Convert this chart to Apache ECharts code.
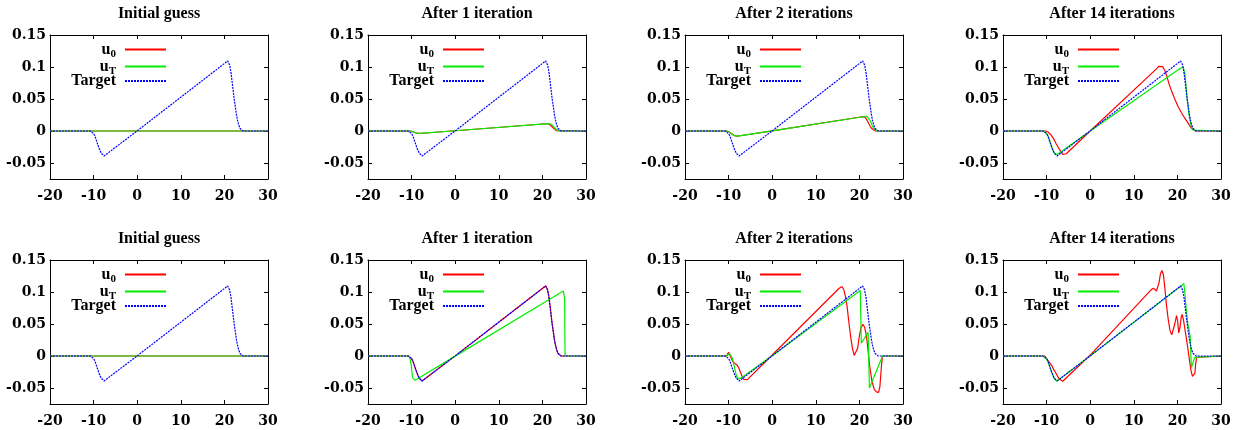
<!DOCTYPE html>
<html>
<head>
<meta charset="utf-8">
<script src="https://cdn.jsdelivr.net/npm/echarts@6/dist/echarts.min.js"></script>
<style>
  html, body { margin: 0; padding: 0; background: #fff; }
  #chart { width: 1237px; height: 430px; }
</style>
</head>
<body>
<div id="chart"></div>
<script>
// panel titles, left to right
const titles = ['Initial guess', 'After 1 iteration', 'After 2 iterations', 'After 14 iterations'];
const seriesNames = ['u0', 'uT', 'Target'];
const xTicks = [-20, -10, 0, 10, 20, 30];
const yTicks = [-0.05, 0, 0.05, 0.1, 0.15];

// target profile (same in every panel)
const target = [[-20,0],[-10.8,0],[-10.4,-0.001],[-10,-0.004],[-9.7,-0.008],[-9.3,-0.016],[-8.9,-0.024],[-8.5,-0.031],
  [-8.2,-0.035],[-7.9,-0.038],[-7.6,-0.039],[-7.3,-0.0385],[0,0.0002],[20.2,0.1065],[20.75,0.1095],[21.0,0.108],
  [21.2,0.103],[21.5,0.092],[21.75,0.078],[22.0,0.064],[22.2,0.052],[22.5,0.038],[22.75,0.026],[23.0,0.017],
  [23.3,0.009],[23.6,0.004],[23.9,0.001],[24.3,0],[30,0]];

// top row
const top0_u0 = [[-20,0],[30,0]];
const top0_uT = [[-20,0],[30,0]];
const top1_u0 = [[-20,0],[-10.6,0],[-10.0,-0.0005],[-9.4,-0.002],[-8.8,-0.0033],[-8.1,-0.0038],[-7.5,-0.0035],[0,0.0004],
  [20.8,0.0113],[21.2,0.0114],[21.6,0.0105],[22.0,0.0085],[22.4,0.0055],[22.8,0.0025],[23.2,0.0007],[23.6,0],[30,0]];
const top1_uT = [[-20,0],[-10.4,0],[-9.8,-0.0008],[-9.2,-0.0025],[-8.6,-0.0035],[-8.0,-0.0038],[-7.4,-0.0034],[0,0.0004],
  [21.3,0.0115],[21.7,0.0116],[22.1,0.0105],[22.5,0.0075],[22.9,0.004],[23.3,0.0015],[23.7,0.0003],[24.1,0],[30,0]];
const top2_u0 = [[-20,0],[-10.5,0],[-10,-0.001],[-9.4,-0.004],[-8.8,-0.0068],[-8.2,-0.0079],[-7.7,-0.0078],[0,0.0003],
  [20.3,0.0219],[20.8,0.0224],[21.3,0.0215],[21.7,0.0175],[22.1,0.012],[22.5,0.007],[22.9,0.0035],[23.3,0.001],[23.7,0],[30,0]];
const top2_uT = [[-20,0],[-10.4,0],[-9.9,-0.0012],[-9.3,-0.0045],[-8.7,-0.007],[-8.1,-0.0079],[-7.6,-0.0077],[0,0.0003],
  [21.2,0.0227],[21.7,0.0229],[22.1,0.021],[22.5,0.016],[22.9,0.009],[23.3,0.004],[23.7,0.001],[24.1,0],[30,0]];
const top3_u0 = [[-20,0],[-10.2,0],[-9.6,-0.002],[-9.0,-0.006],[-8.4,-0.012],[-7.8,-0.02],[-7.2,-0.027],[-6.7,-0.033],
  [-6.3,-0.0365],[-5.9,-0.037],[-5.5,-0.0355],[0,0],[15.2,0.097],[15.7,0.101],[16.15,0.1025],[16.6,0.1005],[17.1,0.095],
  [17.6,0.085],[18.2,0.071],[18.8,0.06],[19.4,0.05],[20.1,0.039],[20.9,0.029],[21.7,0.02],[22.5,0.012],[23.1,0.0055],
  [23.6,0.002],[24.1,0.0003],[24.5,0],[30,0]];
const top3_uT = [[-20,0],[-10.8,0],[-10.4,-0.001],[-10,-0.004],[-9.6,-0.009],[-9.2,-0.017],[-8.8,-0.025],[-8.4,-0.032],
  [-8.1,-0.0355],[-7.8,-0.037],[-7.5,-0.0365],[0,0],[20.6,0.0975],[21.0,0.0995],[21.3,0.1],[21.5,0.098],[21.7,0.09],
  [21.9,0.076],[22.1,0.06],[22.4,0.04],[22.7,0.024],[23.0,0.012],[23.3,0.005],[23.6,0.0015],[24.0,0],[30,0]];

// bottom row
const bot0_u0 = [[-20,0],[30,0]];
const bot0_uT = [[-20,0],[30,0]];
const bot1_u0 = target;
const bot1_uT = [[-20,0],[-10.5,0],[-10.3,-0.003],[-10.1,-0.014],[-9.9,-0.027],[-9.7,-0.035],[-9.5,-0.0375],[-9.2,-0.0378],
  [-8.9,-0.0368],[0,-0.0002],[24.8,0.1015],[25.0,0.1028],[25.1,0.09],[25.15,0.03],[25.2,0],[30,0]];
const bot2_u0 = [[-20,0],[-10.5,0],[-10.3,0.002],[-10.0,0.0058],[-9.8,0.005],[-9.5,-0.002],[-9.1,-0.008],[-8.6,-0.0115],
  [-8.1,-0.014],[-7.7,-0.018],[-7.3,-0.025],[-6.9,-0.032],[-6.5,-0.0365],[-6.1,-0.038],[-5.7,-0.037],[0,0.0015],
  [15.3,0.1055],[15.7,0.108],[16.0,0.1085],[16.4,0.104],[16.8,0.093],[17.2,0.076],[17.6,0.052],[18.0,0.03],[18.4,0.012],
  [18.8,0.001],[19.2,0],[19.6,0.012],[20.0,0.032],[20.4,0.045],[20.8,0.0495],[21.2,0.045],[21.6,0.032],[22.0,0.008],
  [22.4,-0.018],[22.9,-0.04],[23.4,-0.052],[23.9,-0.056],[24.4,-0.057],[24.7,-0.048],[24.9,-0.03],[25.1,-0.012],[25.3,0],[30,0]];
const bot2_uT = [[-20,0],[-10.4,0],[-10.0,0.001],[-9.8,0.004],[-9.6,0.0055],[-9.4,0.0045],[-9.1,-0.004],[-8.8,-0.013],
  [-8.5,-0.023],[-8.2,-0.031],[-7.9,-0.0355],[-7.6,-0.0365],[-7.3,-0.035],[0,0.0005],[20.2,0.1025],[20.45,0.02],
  [22.0,0.037],[22.3,-0.05],[25.3,0],[30,0]];
const bot3_u0 = [[-20,0],[-10.4,0],[-10.0,-0.003],[-9.6,-0.008],[-9.2,-0.0115],[-8.8,-0.015],[-8.4,-0.021],[-8.0,-0.025],
  [-7.6,-0.03],[-7.2,-0.035],[-6.8,-0.038],[-6.3,-0.0395],[-5.9,-0.039],[0,0.0015],[13.9,0.103],[14.5,0.106],[14.9,0.104],
  [15.2,0.1015],[15.5,0.104],[15.8,0.115],[16.1,0.128],[16.45,0.1335],[16.8,0.127],[17.15,0.104],[17.5,0.079],[17.9,0.057],
  [18.3,0.04],[18.7,0.033],[19.0,0.035],[19.4,0.05],[19.8,0.063],[20.05,0.055],[20.3,0.036],[20.6,0.045],[20.85,0.06],
  [21.07,0.065],[21.4,0.056],[21.7,0.043],[22.0,0.03],[22.4,0.012],[22.76,-0.006],[23.1,-0.022],[23.45,-0.032],
  [23.77,-0.035],[24.0,-0.027],[24.2,-0.012],[24.4,-0.002],[24.6,0],[30,0]];
const bot3_uT = [[-20,0],[-10.9,0],[-10.5,-0.001],[-10.1,-0.004],[-9.7,-0.009],[-9.3,-0.016],[-8.9,-0.024],[-8.5,-0.031],
  [-8.2,-0.036],[-7.9,-0.0385],[-7.6,-0.039],[-7.3,-0.0382],[0,0.0002],[20.4,0.107],[21.0,0.11],[21.46,0.1135],[21.7,0.1],
  [22.0,0.075],[22.3,0.055],[22.5,0.047],[22.8,0.044],[22.95,0.03],[23.15,-0.01],[23.25,-0.018],[23.5,-0.012],[24.0,-0.002],
  [24.3,0],[30,0]];

const panelData = [
  [top0_u0, top0_uT], [top1_u0, top1_uT], [top2_u0, top2_uT], [top3_u0, top3_uT],
  [bot0_u0, bot0_uT], [bot1_u0, bot1_uT], [bot2_u0, bot2_uT], [bot3_u0, bot3_uT]
];

const W = 1237;
const lefts = [50, 368, 685, 1003];
const tops = [35, 260];
const plotW = 218, plotH = 144;

const serif = 'Liberation Serif';
const tickFont = { fontFamily: 'DejaVu Serif', fontWeight: 'bold', fontSize: 14, color: '#000' };
const black = { color: '#000', width: 1 };
const red = '#ff0000', green = '#00f000', blue = '#0000ff';

const grid = [], xAxis = [], yAxis = [], legend = [], series = [];

panelData.forEach((pd, i) => {
  const r = Math.floor(i / 4), c = i % 4;
  grid.push({ left: lefts[c], top: tops[r], width: plotW, height: plotH, show: false });

  ['bottom', 'top'].forEach((pos, k) => {
    xAxis.push({
      type: 'value', gridIndex: i, position: pos, min: -20, max: 30, interval: 10,
      axisLine: { show: true, onZero: false, lineStyle: black },
      axisTick: { show: true, inside: true, length: 4, lineStyle: black },
      axisLabel: k === 0 ? Object.assign({ margin: 10 }, tickFont) : { show: false },
      splitLine: { show: false },
      name: k === 1 ? titles[c] : '',
      nameLocation: 'middle', nameGap: 13,
      nameTextStyle: { fontFamily: serif, fontWeight: 'bold', fontSize: 16, color: '#000' }
    });
  });
  ['left', 'right'].forEach((pos, k) => {
    yAxis.push({
      type: 'value', gridIndex: i, position: pos, min: -0.075, max: 0.15,
      axisLine: { show: true, onZero: false, lineStyle: black },
      axisTick: { show: true, inside: true, length: 4, lineStyle: black, customValues: yTicks },
      axisLabel: k === 0 ? Object.assign({ margin: 4, customValues: yTicks,
        formatter: v => String(+Number(v).toFixed(3)) }, tickFont) : { show: false },
      splitLine: { show: false }
    });
  });

  legend.push({
    data: seriesNames, orient: 'vertical', align: 'right', selectedMode: false,
    right: W - (lefts[c] + 117), top: tops[r] + 4, padding: 0,
    itemWidth: 41, itemHeight: 14, itemGap: -4,
    itemStyle: { opacity: 0 },
    formatter: n => n === 'u0' ? '{n|u}{s|0}' : n === 'uT' ? '{n|u}{s|T}' : '{n|Target}',
    textStyle: {
      color: '#000', padding: [0, 4, 0, 0],
      rich: {
        n: { fontFamily: serif, fontWeight: 'bold', fontSize: 16, color: '#000', lineHeight: 14 },
        s: { fontFamily: serif, fontWeight: 'bold', fontSize: 11, color: '#000', padding: [10, 0, 0, 0], lineHeight: 14 }
      }
    }
  });

  const common = { type: 'line', xAxisIndex: 2 * i, yAxisIndex: 2 * i, symbol: 'none', silent: true, animation: false };
  series.push(Object.assign({ name: 'u0', data: pd[0], lineStyle: { color: red, width: 1.2 }, itemStyle: { color: red } }, common));
  series.push(Object.assign({ name: 'uT', data: pd[1], lineStyle: { color: green, width: 1.2 }, itemStyle: { color: green } }, common));
  series.push(Object.assign({ name: 'Target', data: target, lineStyle: { color: blue, width: 1.2, type: [2, 1] }, itemStyle: { color: blue } }, common));
});

const chart = echarts.init(document.getElementById('chart'));
chart.setOption({ animation: false, backgroundColor: '#fff', grid, xAxis, yAxis, legend, series });
</script>
</body>
</html>
